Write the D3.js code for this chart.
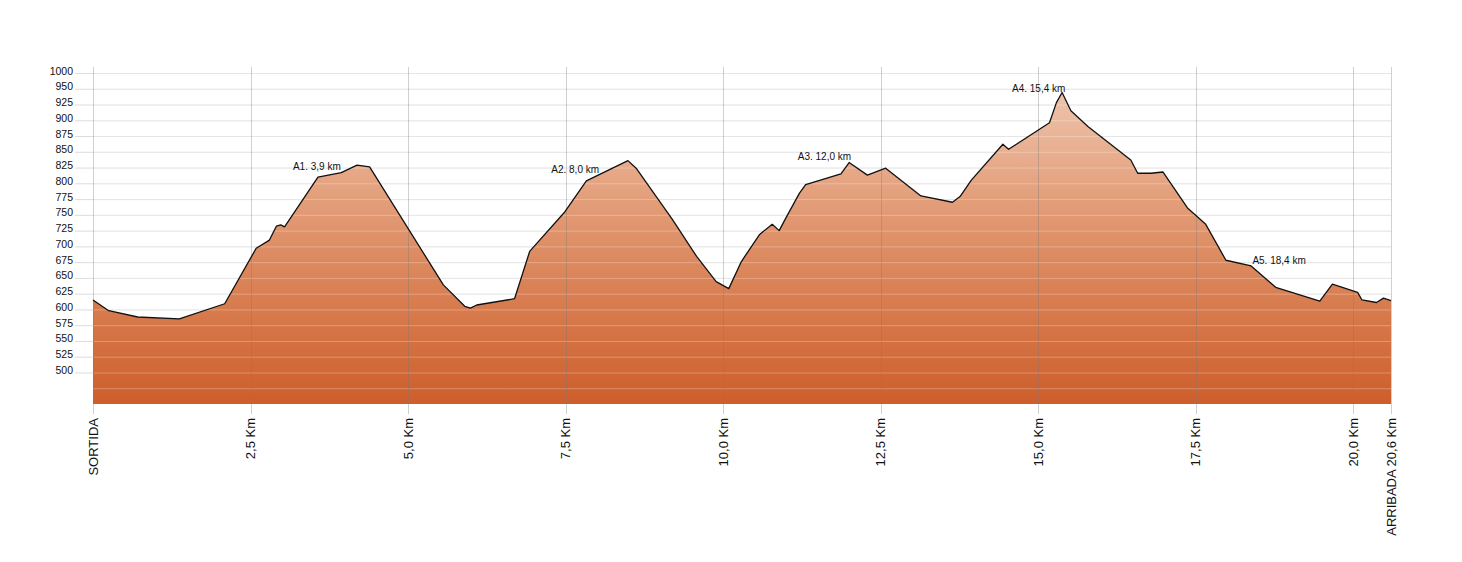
<!DOCTYPE html>
<html>
<head>
<meta charset="utf-8">
<script src="https://cdn.jsdelivr.net/npm/d3@7"></script>
<style>
  html, body { margin: 0; padding: 0; background: #fff; }
  svg { display: block; font-family: "Liberation Sans", Arial, sans-serif; }
</style>
</head>
<body>
<svg id="chart" width="1462" height="562"></svg>
<script>
// distance along the route (km)
const distanceKm = [0, 0.25, 0.71, 1.37, 2.09, 2.59, 2.80, 2.91, 2.98, 3.04, 3.57, 3.94, 4.19, 4.39, 5.56, 5.90, 5.99, 6.09, 6.69, 6.93, 7.49, 7.83, 8.49, 8.62, 9.20, 9.58, 9.89, 10.09, 10.29, 10.58, 10.78, 10.89, 10.98, 11.21, 11.31, 11.87, 12.00, 12.29, 12.58, 13.14, 13.64, 13.76, 13.94, 14.44, 14.53, 15.18, 15.29, 15.38, 15.52, 15.79, 16.47, 16.58, 16.79, 16.98, 17.37, 17.66, 17.98, 18.38, 18.77, 19.47, 19.67, 20.07, 20.14, 20.37, 20.48, 20.6];
// elevation (m)
const elevation = [615, 598, 588, 585, 609, 697, 710, 732, 734, 731, 810, 817, 829, 826, 639, 605, 602, 607, 617, 692, 755, 804, 836, 824, 742, 684, 644, 633, 676, 719, 735, 725, 742, 784, 798, 815, 833, 813, 824, 780, 770, 779, 805, 862, 854, 896, 928, 944, 915, 890, 837, 816, 816, 818, 761, 735, 678, 669, 635, 613, 640, 627, 615, 611, 618, 614];

// x axis ticks
const xTickValues = [0, 2.5, 5, 7.5, 10, 12.5, 15, 17.5, 20, 20.6];
const xTickLabels = ["SORTIDA", "2,5 Km", "5,0 Km", "7,5 Km", "10,0 Km", "12,5 Km", "15,0 Km", "17,5 Km", "20,0 Km", "ARRIBADA 20,6 Km"];

// y axis ticks (labels as printed on the original)
const yTickValues = [975, 950, 925, 900, 875, 850, 825, 800, 775, 750, 725, 700, 675, 650, 625, 600, 575, 550, 525, 500];
const yTickLabels = ["1000", "950", "925", "900", "875", "850", "825", "800", "775", "750", "725", "700", "675", "650", "625", "600", "575", "550", "525", "500"];
const yExtraGrid = [475];

// waypoint annotations
const wpLabels = ["A1. 3,9 km", "A2. 8,0 km", "A3. 12,0 km", "A4. 15,4 km", "A5. 18,4 km"];
const wpKm = [3.9, 8.0, 12.0, 15.4, 18.4];
const wpAnchor = ["end", "end", "end", "end", "start"];

const data = distanceKm.map((d, i) => ({ km: d, ele: elevation[i] }));

const svg = d3.select("#chart");
const x = d3.scaleLinear().domain([0, 20.6]).range([93, 1391]);
const y = d3.scaleLinear().domain([450, 975]).range([404, 73]);

const defs = svg.append("defs");
const grad = defs.append("linearGradient")
  .attr("id", "fillGrad")
  .attr("gradientUnits", "userSpaceOnUse")
  .attr("x1", 0).attr("x2", 0)
  .attr("y1", y(975)).attr("y2", y(450));
grad.append("stop").attr("offset", "0").attr("stop-color", "#f0cab4");
grad.append("stop").attr("offset", "0.55").attr("stop-color", "#dd8b61");
grad.append("stop").attr("offset", "1").attr("stop-color", "#cd5e2b");

// horizontal grid (behind)
svg.append("g").selectAll("line")
  .data(yTickValues)
  .join("line")
  .attr("x1", 75).attr("x2", x(20.6))
  .attr("y1", d => y(d) + 0.5).attr("y2", d => y(d) + 0.5)
  .attr("stroke", "#dcdcdc").attr("stroke-width", 1);

// area
const area = d3.area().x(d => x(d.km)).y0(y(450)).y1(d => y(d.ele));
svg.append("path").datum(data).attr("d", area).attr("fill", "url(#fillGrad)");

// horizontal grid lines over the fill (light)
svg.append("g").selectAll("line")
  .data(yTickValues.concat(yExtraGrid))
  .join("line")
  .attr("x1", x(0)).attr("x2", x(20.6))
  .attr("y1", d => y(d) + 0.5).attr("y2", d => y(d) + 0.5)
  .attr("stroke", "#ffffff").attr("stroke-opacity", 0.28).attr("stroke-width", 1);

// vertical grid lines
svg.append("g").selectAll("line")
  .data(xTickValues)
  .join("line")
  .attr("x1", d => Math.round(x(d)) + 0.5).attr("x2", d => Math.round(x(d)) + 0.5)
  .attr("y1", 67).attr("y2", 414)
  .attr("stroke", "#777").attr("stroke-opacity", 0.35).attr("stroke-width", 1);

// profile line
const line = d3.line().x(d => x(d.km)).y(d => y(d.ele));
svg.append("path").datum(data).attr("d", line)
  .attr("fill", "none").attr("stroke", "#111").attr("stroke-width", 1.3)
  .attr("stroke-linejoin", "round");

// y axis labels
svg.append("g").selectAll("text")
  .data(yTickValues)
  .join("text")
  .attr("x", 73).attr("y", d => y(d) + 1.5)
  .attr("text-anchor", "end")
  .attr("font-size", 10.5)
  .attr("fill", "#111")
  .text((d, i) => yTickLabels[i]);

// x axis labels
svg.append("g").selectAll("text")
  .data(xTickValues)
  .join("text")
  .attr("transform", d => `translate(${x(d)},418) rotate(-90)`)
  .attr("dy", "0.36em")
  .attr("text-anchor", "end")
  .attr("font-size", 13)
  .attr("fill", "#111")
  .text((d, i) => xTickLabels[i]);

// waypoint annotations
const bis = d3.bisector(d => d.km).left;
function eleAt(k) {
  const i = Math.max(1, Math.min(data.length - 1, bis(data, k)));
  const a = data[i - 1], b = data[i];
  const t = (k - a.km) / (b.km - a.km);
  return a.ele + t * (b.ele - a.ele);
}
svg.append("g").selectAll("text")
  .data(wpKm)
  .join("text")
  .attr("x", (d, i) => x(d) + (wpAnchor[i] === "end" ? 2 : 0))
  .attr("y", d => y(eleAt(d)) - 3)
  .attr("text-anchor", (d, i) => wpAnchor[i])
  .attr("font-size", 10)
  .attr("fill", "#111")
  .text((d, i) => wpLabels[i]);
</script>
</body>
</html>
